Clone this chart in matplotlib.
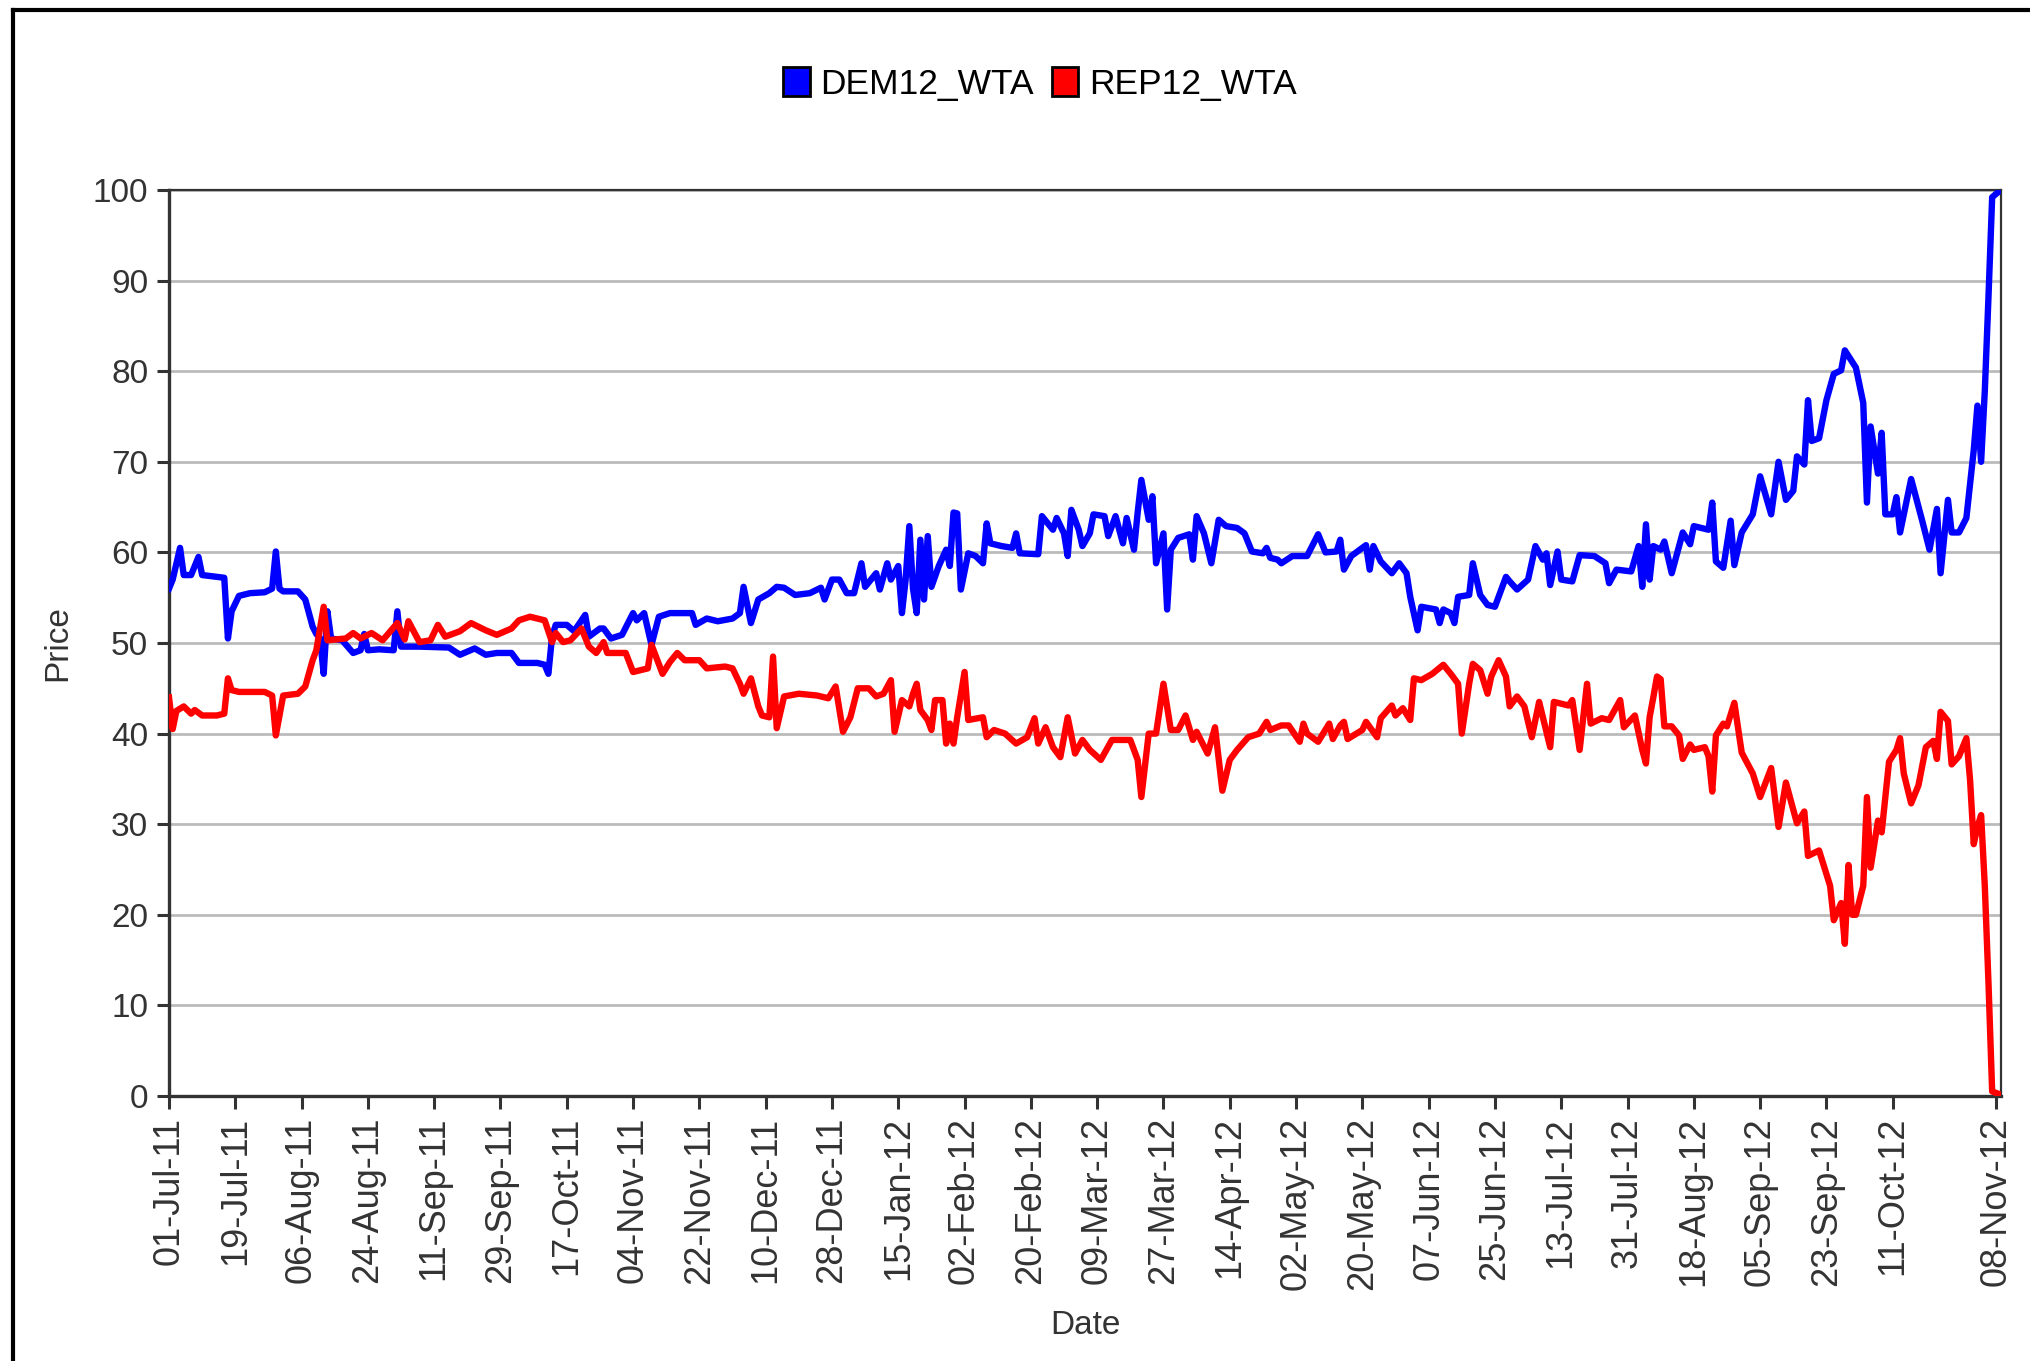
import matplotlib
matplotlib.use("Agg")
import matplotlib.pyplot as plt
from matplotlib.lines import Line2D
from matplotlib.patches import Patch

plt.rcParams['font.family'] = ['Liberation Sans', 'DejaVu Sans']

# ---- data (day offsets from 01-Jul-2011) ----
dem_days = [0, 1, 3, 4, 6, 8, 9, 13, 15, 16, 17, 19, 22, 26, 28, 29, 30, 31, 35, 37, 39, 40, 41, 42, 43, 44, 47, 50,
            52, 53, 54, 57, 61, 62, 63, 68, 76, 79, 83, 86, 89, 93, 95, 100, 102, 103, 104, 105, 108, 110, 113, 114,
            117, 118, 120, 123, 126, 127, 129, 131, 133, 136, 142, 143, 146, 149, 153, 155, 156, 158, 160, 163, 165,
            167, 170, 174, 177, 178, 180, 182, 184, 186, 188, 189, 192, 193, 195, 196, 198, 199, 200, 201, 202, 203,
            204, 205, 206, 207, 209, 211, 212, 213, 214, 215, 217, 219, 221, 222, 223, 226, 229, 230, 231, 236, 237,
            240, 241, 243, 244, 245, 247, 248, 250, 251, 254, 255, 257, 259, 260, 262, 263, 264, 266, 267, 268, 270,
            271, 272, 274, 277, 278, 279, 281, 283, 285, 287, 290, 292, 294, 297, 298, 299, 301, 302, 305, 309, 312,
            314, 317, 318, 319, 321, 325, 326, 327, 329, 332, 334, 336, 337, 339, 340, 344, 345, 346, 348, 349, 350,
            353, 354, 356, 358, 360, 363, 364, 366, 369, 371, 373, 374, 375, 377, 378, 381, 383, 387, 390, 391, 393,
            397, 399, 400, 401, 402, 403, 405, 406, 408, 411, 413, 414, 418, 419, 420, 422, 424, 425, 427, 430, 432,
            435, 437, 439, 441, 442, 444, 445, 446, 448, 450, 452, 454, 455, 458, 460, 461, 462, 464, 465, 466, 468,
            469, 470, 473, 476, 478, 480, 481, 483, 484, 486, 488, 490, 491, 492, 493, 494, 495, 497]
dem_vals = [56, 57, 60.5, 57.5, 57.5, 59.5, 57.5, 57.3, 57.2, 50.5, 53.5, 55.2, 55.5, 55.6, 56, 60.1, 56, 55.7, 55.7,
            54.8, 51.8, 51, 50.5, 46.6, 53.5, 50.5, 50.3, 48.9, 49.2, 51, 49.2, 49.3, 49.2, 53.5, 49.6, 49.6, 49.5,
            48.7, 49.4, 48.7, 48.9, 48.9, 47.8, 47.8, 47.6, 46.6, 50.7, 52, 52, 51.3, 53.1, 50.7, 51.6, 51.6, 50.5,
            50.9, 53.3, 52.5, 53.3, 49.8, 52.9, 53.3, 53.3, 52, 52.7, 52.4, 52.7, 53.3, 56.2, 52.2, 54.8, 55.5, 56.2,
            56.1, 55.3, 55.5, 56.1, 54.8, 57, 57, 55.5, 55.5, 58.8, 56.2, 57.7, 55.9, 58.8, 57, 58.5, 53.3, 57, 62.9,
            56, 53.3, 61.4, 54.8, 61.8, 56.2, 58.5, 60.3, 58.5, 64.4, 64.3, 55.9, 59.9, 59.6, 58.8, 63.2, 61, 60.7,
            60.5, 62.1, 59.9, 59.8, 64, 62.5, 63.8, 62.1, 59.6, 64.7, 62.5, 60.7, 62.1, 64.2, 64, 61.8, 64, 61, 63.8,
            60.3, 64.4, 68, 63.6, 66.2, 58.8, 62.1, 53.7, 60.3, 61.6, 62, 59.2, 64, 62.1, 58.8, 63.6, 62.9, 62.7,
            62.1, 60.1, 59.9, 60.5, 59.4, 59.2, 58.8, 59.6, 59.6, 62, 60, 60.1, 61.4, 58.1, 59.6, 60.8, 58.1, 60.7,
            59, 57.7, 58.8, 57.7, 55.1, 51.4, 54, 53.7, 52.2, 53.7, 53.3, 52.2, 55.1, 55.3, 58.8, 55.3, 54.2, 54,
            57.3, 56.8, 55.9, 57, 60.7, 59.2, 59.9, 56.4, 60.1, 57, 56.8, 59.7, 59.6, 58.8, 56.6, 58.1, 57.9, 60.7,
            56.2, 63.1, 57, 60.7, 60.3, 61.2, 57.7, 62.2, 60.9, 62.9, 62.5, 65.5, 59, 58.3, 63.5, 58.6, 62.2, 64.2,
            68.4, 64.2, 70, 65.8, 66.8, 70.6, 69.7, 76.8, 72.3, 72.6, 76.8, 79.7, 80.1, 82.3, 80.4, 76.5, 65.5, 73.9,
            68.7, 73.2, 64.2, 64.2, 66.1, 62.2, 68.1, 63.5, 60.3, 64.8, 57.7, 65.8, 62.2, 62.2, 63.8, 71.3, 76.2, 70,
            77.8, 88.2, 99.2, 99.9]

rep_days = [0, 1, 2, 4, 6, 7, 9, 13, 15, 16, 17, 19, 26, 28, 29, 31, 35, 37, 39, 40, 42, 43, 48, 50, 52, 55, 58, 62,
            64, 65, 68, 71, 73, 75, 79, 82, 86, 89, 93, 95, 98, 102, 104, 105, 107, 109, 112, 114, 116, 118, 119, 124,
            126, 130, 131, 134, 136, 138, 140, 144, 146, 151, 153, 155, 156, 158, 160, 161, 163, 164, 165, 167, 171,
            176, 179, 181, 183, 185, 187, 190, 192, 194, 196, 197, 199, 201, 202, 203, 204, 206, 207, 208, 210, 211,
            212, 213, 214, 216, 217, 221, 222, 224, 227, 230, 233, 235, 236, 238, 240, 242, 244, 246, 248, 250, 253,
            256, 261, 263, 264, 266, 268, 270, 272, 274, 276, 278, 279, 282, 284, 286, 288, 290, 293, 296, 298, 299,
            302, 304, 307, 308, 309, 312, 315, 316, 318, 319, 320, 324, 325, 328, 329, 332, 333, 335, 337, 338, 340,
            343, 346, 348, 350, 351, 353, 354, 356, 358, 359, 361, 363, 364, 366, 368, 370, 372, 375, 376, 380, 381,
            383, 385, 386, 389, 391, 394, 395, 398, 400, 401, 402, 403, 404, 405, 406, 408, 410, 411, 413, 414, 417,
            418, 419, 420, 422, 423, 425, 427, 430, 432, 435, 437, 439, 442, 444, 445, 448, 451, 452, 454, 455, 456,
            457, 458, 460, 461, 462, 464, 465, 467, 469, 470, 471, 473, 475, 477, 479, 480, 481, 483, 484, 486, 488,
            489, 490, 491, 492, 493, 494, 495, 497]
rep_vals = [44, 40.5, 42.5, 43, 42.2, 42.6, 42, 42, 42.2, 46.1, 44.8, 44.6, 44.6, 44.2, 39.8, 44.2, 44.4, 45.2, 48.1,
            49.2, 54, 50.3, 50.5, 51.1, 50.5, 51.1, 50.3, 52.2, 50.4, 52.4, 50.1, 50.3, 52, 50.7, 51.3, 52.2, 51.4,
            50.9, 51.6, 52.5, 52.9, 52.5, 50.1, 51.1, 50.1, 50.3, 51.6, 49.6, 48.9, 50.1, 48.9, 48.9, 46.8, 47.2, 49.8,
            46.6, 47.9, 48.9, 48.1, 48.1, 47.2, 47.4, 47.2, 45.5, 44.4, 46.1, 43, 42, 41.8, 48.5, 40.6, 44.1, 44.4,
            44.2, 43.9, 45.2, 40.2, 41.8, 45, 45, 44.1, 44.4, 45.9, 40.2, 43.7, 43, 44.4, 45.5, 42.6, 41.5, 40.4, 43.7,
            43.7, 38.9, 41.1, 38.9, 41.8, 46.8, 41.5, 41.8, 39.6, 40.4, 40, 38.9, 39.6, 41.7, 38.9, 40.7, 38.5, 37.4,
            41.8, 37.8, 39.3, 38.2, 37.1, 39.3, 39.3, 37.1, 33, 40, 40, 45.5, 40.4, 40.4, 42, 39.3, 40.2, 37.8, 40.7,
            33.7, 37.1, 38.2, 39.6, 40, 41.3, 40.4, 40.9, 40.9, 39.1, 41.1, 40, 39.1, 41.1, 39.4, 40.9, 41.3, 39.4,
            40.4, 41.3, 39.6, 41.7, 43.1, 42, 42.8, 41.5, 46.1, 45.9, 46.6, 47.6, 46.6, 45.5, 40, 45.5, 47.7, 47, 44.4,
            46.3, 48.1, 46.3, 43, 44.1, 43, 39.6, 43.5, 38.5, 43.5, 43.1, 43.7, 38.2, 45.5, 41.1, 41.7, 41.5, 43.7,
            40.7, 42, 38.2, 36.7, 41.8, 44, 46.3, 46, 40.8, 40.8, 39.8, 37.2, 38.8, 38.2, 38.5, 37.5, 33.6, 39.8, 41.1,
            40.8, 43.4, 37.9, 35.6, 33, 36.2, 29.7, 34.6, 30.1, 31.4, 26.5, 27.1, 23.2, 19.4, 21.3, 16.8, 25.5, 20,
            20, 23.2, 33, 25.2, 30.4, 29.1, 36.9, 38.2, 39.5, 35.6, 32.3, 34.3, 38.5, 39.2, 37.2, 42.4, 41.4, 36.6,
            37.5, 39.5, 34.9, 27.8, 29.7, 31, 23.2, 12.5, 0.5, 0.2]

tick_days = [0, 18, 36, 54, 72, 90, 108, 126, 144, 162, 180, 198, 216, 234, 252, 270, 288, 306, 324, 342, 360,
             378, 396, 414, 432, 450, 468, 496]
tick_labels = ['01-Jul-11', '19-Jul-11', '06-Aug-11', '24-Aug-11', '11-Sep-11', '29-Sep-11', '17-Oct-11',
               '04-Nov-11', '22-Nov-11', '10-Dec-11', '28-Dec-11', '15-Jan-12', '02-Feb-12', '20-Feb-12',
               '09-Mar-12', '27-Mar-12', '14-Apr-12', '02-May-12', '20-May-12', '07-Jun-12', '25-Jun-12',
               '13-Jul-12', '31-Jul-12', '18-Aug-12', '05-Sep-12', '23-Sep-12', '11-Oct-12', '08-Nov-12']
y_ticks = [0, 10, 20, 30, 40, 50, 60, 70, 80, 90, 100]

# ---- figure ----
W, H = 2031, 1361
fig = plt.figure(figsize=(W / 100, H / 100), dpi=100)
ax = fig.add_axes([169 / W, 1 - 1096 / H, (2001 - 169) / W, (1096 - 190) / H])

ax.plot(dem_days, dem_vals, color='#0000FF', lw=4.6, zorder=3)
ax.plot(rep_days, rep_vals, color='#FF0000', lw=4.6, zorder=4)

ax.set_xlim(0, 497.4)
ax.set_ylim(0, 100)
ax.set_yticks(y_ticks)
ax.set_xticks(tick_days)
ax.set_xticklabels(tick_labels, rotation=90)
ax.yaxis.grid(True, color='#BBBBBB', lw=2.0)
ax.set_axisbelow(True)

tc = '#333333'
ax.tick_params(axis='both', direction='out', length=9, width=2.2, color=tc, labelcolor=tc, pad=6)
ax.tick_params(axis='y', labelsize=24)
ax.tick_params(axis='x', labelsize=26)
for s in ['left', 'bottom']:
    ax.spines[s].set_linewidth(2.4)
    ax.spines[s].set_color(tc)
for s in ['top', 'right']:
    ax.spines[s].set_linewidth(1.6)
    ax.spines[s].set_color(tc)

ax.set_ylabel('Price', fontsize=24, color=tc, labelpad=14)
ax.set_xlabel('Date', fontsize=24, color=tc, labelpad=14)

handles = [Patch(facecolor='#0000FF', edgecolor='black', lw=2.0),
           Patch(facecolor='#FF0000', edgecolor='black', lw=2.0)]
fig.legend(handles, ['DEM12_WTA', 'REP12_WTA'], loc='center', bbox_to_anchor=(0.512, 1 - 84 / H),
           ncol=2, frameon=False, fontsize=25.5, handlelength=0.75, handleheight=0.9,
           handletextpad=0.3, columnspacing=0.5, labelcolor='black')

# outer frame (cropped screenshot border)
x0 = 13 / W
y0 = 1 - 10 / H
fig.add_artist(Line2D([x0, x0], [0, y0], color='black', lw=3, transform=fig.transFigure))
fig.add_artist(Line2D([x0, 1], [y0, y0], color='black', lw=3, transform=fig.transFigure))

fig.savefig('out.png', dpi=100)
